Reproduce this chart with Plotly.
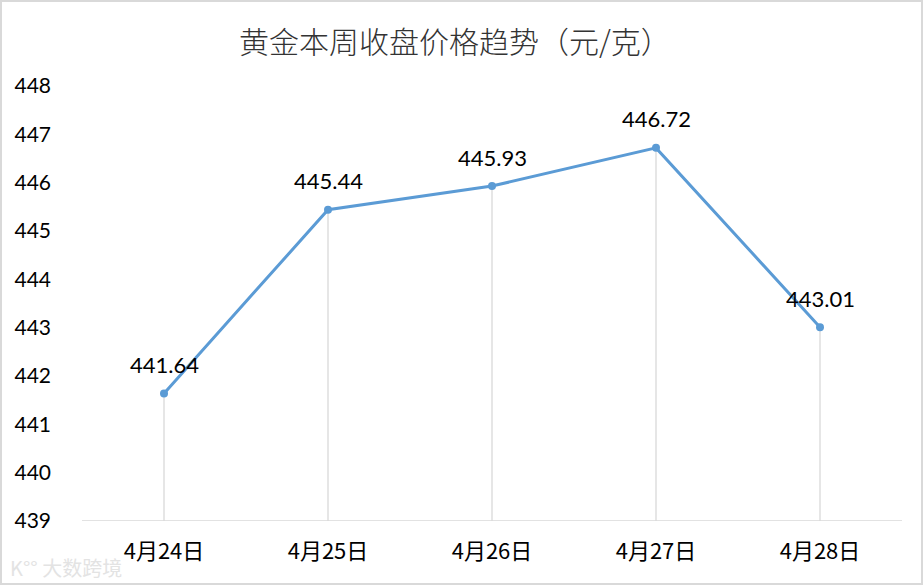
import plotly.graph_objects as go

categories = ["4月24日", "4月25日", "4月26日", "4月27日", "4月28日"]
prices = [441.64, 445.44, 445.93, 446.72, 443.01]
y_ticks = [439, 440, 441, 442, 443, 444, 445, 446, 447, 448]
title_text = "黄金本周收盘价格趋势（元/克）"

W, H = 924, 586
ML, MR, MT, MB = 82, 22, 86, 65
PW, PH = W - ML - MR, H - MT - MB

y_min, y_max = y_ticks[0], y_ticks[-1]
num_font = "Lato, 'Noto Sans CJK SC', sans-serif"
cjk_font = "'Noto Sans CJK SC', sans-serif"


def px_x(p):
    return (p - ML) / PW


def px_y(p):
    return ((H - MB) - p) / PH


fig = go.Figure()

# drop lines
dx, dy = [], []
for c, v in zip(categories, prices):
    dx += [c, c, None]
    dy += [y_min, v, None]
fig.add_trace(go.Scatter(x=dx, y=dy, mode="lines",
                         line=dict(color="#d9d9d9", width=1.3),
                         hoverinfo="skip", showlegend=False))

fig.add_trace(go.Scatter(x=categories, y=prices, mode="lines+markers",
                         line=dict(color="#5B9BD5", width=3),
                         marker=dict(color="#5B9BD5", size=8),
                         showlegend=False))

for c, v in zip(categories, prices):
    fig.add_annotation(x=c, y=v, text=f"{v:.2f}", showarrow=False,
                       yshift=29, font=dict(family=num_font, size=22, color="#000000"))

# title
fig.add_annotation(x=px_x(455), y=px_y(40), xref="paper", yref="paper",
                   xanchor="center", yanchor="middle",
                   text=title_text, showarrow=False,
                   font=dict(family=cjk_font, size=30, color="#333333", weight=300))

# watermark
fig.add_annotation(x=px_x(8), y=px_y(567),
                   xref="paper", yref="paper", xanchor="left", yanchor="middle",
                   text="K°° 大数跨境", showarrow=False,
                   font=dict(family=cjk_font, size=20, color="#e3e3e3"))

# border
fig.add_shape(type="rect", xref="paper", yref="paper",
              x0=px_x(1), x1=px_x(922), y0=px_y(584), y1=px_y(1),
              line=dict(color="#d9d9d9", width=2), fillcolor="rgba(0,0,0,0)")

fig.update_layout(
    width=W, height=H,
    margin=dict(l=ML, r=MR, t=MT, b=MB, autoexpand=False),
    paper_bgcolor="white", plot_bgcolor="white",
    xaxis=dict(type="category", range=[-0.5, len(categories) - 0.5],
               showgrid=False, zeroline=False, showline=False, automargin=False,
               tickfont=dict(family=cjk_font, size=22, color="#000000"),
               ticks="", ticklabelstandoff=15, fixedrange=True),
    yaxis=dict(range=[y_min, y_max], tickvals=y_ticks,
               ticktext=[str(t) for t in y_ticks],
               showgrid=False, zeroline=False, showline=False, automargin=False,
               tickfont=dict(family=num_font, size=21, color="#000000"),
               ticks="", ticklabelstandoff=30, fixedrange=True),
)

# x axis baseline
fig.add_shape(type="line", xref="paper", yref="y", x0=0, x1=1, y0=y_min, y1=y_min,
              line=dict(color="#d9d9d9", width=1.5))

fig.write_html("out.html", config={"displayModeBar": False},
               post_script="document.body.style.margin='0';document.body.style.overflow='hidden';")
